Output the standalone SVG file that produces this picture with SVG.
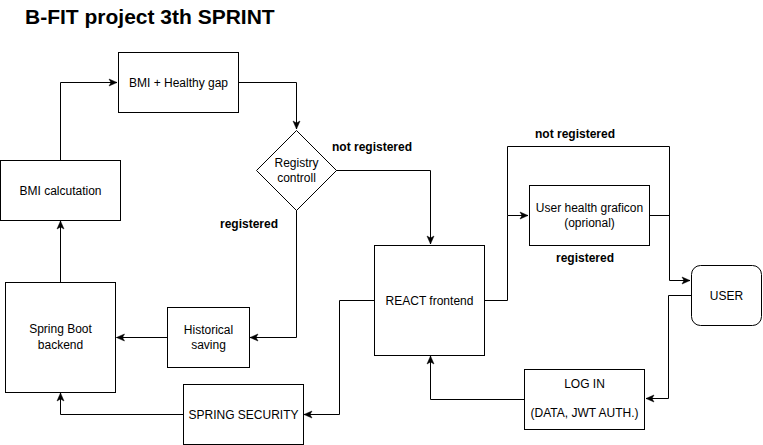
<svg xmlns="http://www.w3.org/2000/svg" width="763" height="445" viewBox="0 0 763 445">
<style>
.box{fill:#fff;stroke:#000;stroke-width:1}
.t{font-family:"Liberation Sans",Arial,sans-serif;font-size:12px;fill:#000;text-anchor:middle}
.b{font-weight:bold}
.e{fill:none;stroke:#000;stroke-width:1}
</style>
<defs>
<marker id="arr" markerUnits="userSpaceOnUse" markerWidth="10" markerHeight="10" viewBox="0 0 10 10" refX="9" refY="5" orient="auto">
<path d="M1,1.5 L9,5 L1,8.5 L3,5 Z" fill="#000" stroke="#000" stroke-width="0.5"/>
</marker>
</defs>
<rect width="763" height="445" fill="#fff"/>
<text x="25" y="24" font-family="'Liberation Sans',Arial,sans-serif" font-size="21" font-weight="bold">B-FIT project 3th SPRINT</text>
<g id="connectors">
<path class="e" d="M60.5,160 V82.5 H117" marker-end="url(#arr)"/>
<path class="e" d="M238,82.5 H296.5 V129" marker-end="url(#arr)"/>
<path class="e" d="M336,170.5 H430.5 V244" marker-end="url(#arr)"/>
<path class="e" d="M296.5,210 V337.5 H250" marker-end="url(#arr)"/>
<path class="e" d="M167,337.5 H116.5" marker-end="url(#arr)"/>
<path class="e" d="M60.5,282 V221" marker-end="url(#arr)"/>
<path class="e" d="M183,414.5 H60.5 V393" marker-end="url(#arr)"/>
<path class="e" d="M374,300.5 H339.5 V414.5 H304" marker-end="url(#arr)"/>
<path class="e" d="M485,300.5 H507.5 V215.5 H528" marker-end="url(#arr)"/>
<path class="e" d="M507.5,215.5 V146.5 H669.5 V280.5 H690" marker-end="url(#arr)"/>
<path class="e" d="M649,215.5 H669.5"/>
<path class="e" d="M691,295.5 H668.5 V398.5 H646" marker-end="url(#arr)"/>
<path class="e" d="M524,399.5 H430.5 V356" marker-end="url(#arr)"/>
<text class="t b" x="372" y="151">not registered</text>
<text class="t b" x="249" y="228">registered</text>
<text class="t b" x="575" y="138">not registered</text>
<text class="t b" x="585" y="262">registered</text>
</g>
<g id="bmi-healthy-gap">
<rect class="box" x="118.5" y="52.5" width="120" height="60"/>
<text class="t" x="178.5" y="86.5">BMI + Healthy gap</text>
</g>
<g id="bmi-calculation">
<rect class="box" x="0.5" y="160.5" width="120" height="60"/>
<text class="t" x="60.5" y="194.5">BMI calcutation</text>
</g>
<g id="registry-controll">
<path class="box" d="M296.5,130.5 L336.5,170.5 L296.5,210.5 L256.5,170.5 Z"/>
<text class="t" x="296.5" y="167">Registry</text>
<text class="t" x="296.5" y="182">controll</text>
</g>
<g id="historical-saving">
<rect class="box" x="167.5" y="307.5" width="82" height="60"/>
<text class="t" x="208.5" y="334">Historical</text>
<text class="t" x="208.5" y="349">saving</text>
</g>
<g id="spring-boot">
<rect class="box" x="5.5" y="282.5" width="110" height="110"/>
<text class="t" x="60.5" y="333">Spring Boot</text>
<text class="t" x="60.5" y="349">backend</text>
</g>
<g id="spring-security">
<rect class="box" x="183.5" y="384.5" width="120" height="60"/>
<text class="t" x="243.5" y="418.5">SPRING SECURITY</text>
</g>
<g id="react-frontend">
<rect class="box" x="374.5" y="245.5" width="110" height="110"/>
<text class="t" x="429.5" y="304.5">REACT frontend</text>
</g>
<g id="user-health">
<rect class="box" x="529.5" y="185.5" width="120" height="60"/>
<text class="t" x="589.5" y="212">User health graficon</text>
<text class="t" x="589.5" y="227">(oprional)</text>
</g>
<g id="user">
<rect class="box" x="691.5" y="265.5" width="70" height="60" rx="9" ry="9"/>
<text class="t" x="726.5" y="299.5">USER</text>
</g>
<g id="log-in">
<rect class="box" x="524.5" y="369.5" width="120" height="60"/>
<text class="t" x="584.5" y="388">LOG IN</text>
<text class="t" x="584.5" y="417">(DATA, JWT AUTH.)</text>
</g>
</svg>
